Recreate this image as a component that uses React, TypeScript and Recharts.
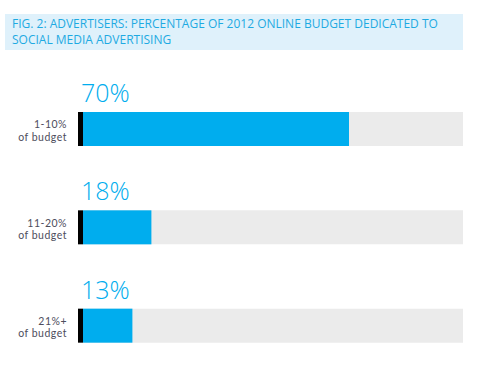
import { BarChart, Bar, XAxis, YAxis, LabelList } from 'recharts';

const categories = ['1-10%', '11-20%', '21%+'];
const subLabels = ['of budget', 'of budget', 'of budget'];
const shares = [70, 18, 13];

const titleLines = [
  'FIG. 2: ADVERTISERS: PERCENTAGE OF 2012 ONLINE BUDGET DEDICATED TO',
  'SOCIAL MEDIA ADVERTISING',
];

const data = categories.map((name, i) => ({ name, sub: subLabels[i], value: shares[i] }));

const BLUE = '#00adee';
const FONT = '"Open Sans", "Noto Sans", sans-serif';
const TICK_FONT = 'Lato, "Open Sans", sans-serif';

const CategoryTick = (props: any) => {
  const { x, y, payload, index } = props;
  const style = { letterSpacing: 0.5 };
  return (
    <g>
      <text x={x} y={y - 1} textAnchor="end" fill="#4d4d5c" fontSize={10.5} fontFamily={TICK_FONT} style={style}>
        {payload.value}
      </text>
      <text x={x} y={y + 11.5} textAnchor="end" fill="#4d4d5c" fontSize={10.5} fontFamily={TICK_FONT} style={style}>
        {subLabels[index]}
      </text>
    </g>
  );
};

const BarShape = (props: any) => {
  const { x, y, width, height } = props;
  return (
    <g>
      <rect x={x - 5} y={y} width={5} height={height} fill="#000" />
      <rect x={x} y={y} width={width} height={height} fill={BLUE} />
    </g>
  );
};

const ValueLabel = (props: any) => {
  const { x, y, value } = props;
  return (
    <text x={x - 2} y={y - 10} fill={BLUE} fontSize={25} fontWeight={300} fontFamily={FONT}>
      {value}%
    </text>
  );
};

export default function App() {
  return (
    <div style={{ position: 'absolute', left: 0, top: 0, width: 498, height: 391, background: '#fff' }}>
      <div
        style={{
          position: 'absolute',
          left: 5,
          top: 14,
          width: 458,
          height: 36,
          background: '#dff1fb',
          color: '#1eaae2',
          fontFamily: FONT,
          fontSize: 12,
          lineHeight: '16px',
          padding: '2px 0 0 7px',
          boxSizing: 'border-box',
          whiteSpace: 'nowrap',
        }}
      >
        {titleLines.map((l) => (
          <div key={l}>{l}</div>
        ))}
      </div>
      <div style={{ position: 'absolute', left: 0, top: 0 }}>
        <BarChart
          width={498}
          height={391}
          data={data}
          layout="vertical"
          margin={{ top: 80, right: 35, bottom: 16, left: 0 }}
          barSize={34}
        >
          <XAxis type="number" domain={[0, 100]} hide />
          <YAxis
            type="category"
            dataKey="name"
            width={83}
            axisLine={false}
            tickLine={false}
            tickSize={0}
            tickMargin={16}
            tick={<CategoryTick />}
          />
          <Bar
            dataKey="value"
            isAnimationActive={false}
            background={{ fill: '#ebebeb' }}
            shape={<BarShape />}
          >
            <LabelList dataKey="value" content={<ValueLabel />} />
          </Bar>
        </BarChart>
      </div>
    </div>
  );
}
